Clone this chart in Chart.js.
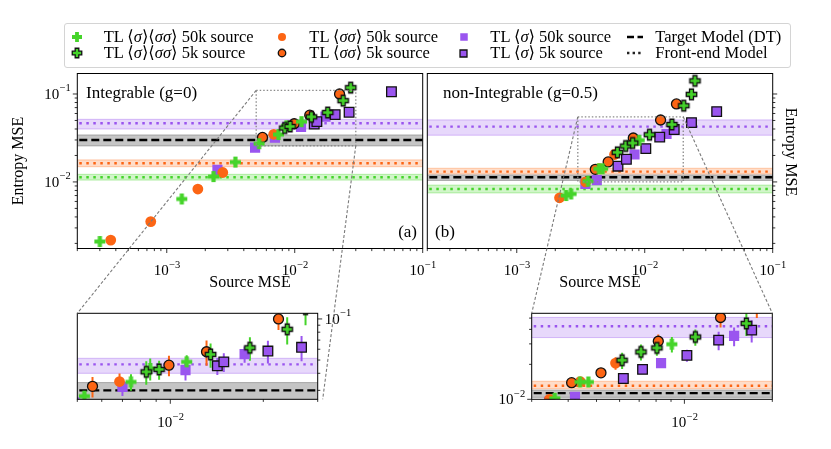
<!DOCTYPE html>
<html>
<head>
<meta charset="utf-8">
<title>Entropy MSE vs Source MSE</title>
<script src="https://cdn.jsdelivr.net/npm/chart.js@4.4.1/dist/chart.umd.min.js"></script>
<style>
  body { margin: 0; background: #fff; }
  #wrap { position: relative; width: 831px; height: 449px; overflow: hidden; font-family: "Liberation Serif", "DejaVu Serif", serif; }
  #wrap canvas.layer { position: absolute; left: 0; top: 0; }
  #legend { position: absolute; left: 64px; top: 23px; width: 727px; height: 45px; border: 1px solid #d4d4d4; border-radius: 3px; box-sizing: border-box; }
  .lg-mark { position: absolute; }
  .lg-text { position: absolute; font-size: 16.5px; line-height: 16px; white-space: nowrap; color: #000; }
</style>
</head>
<body>
<div id="wrap">
  <div id="legend"></div>
  <canvas id="chartA" class="layer" width="831" height="449"></canvas>
  <canvas id="chartB" class="layer" width="831" height="449"></canvas>
  <canvas id="insetA" class="layer" width="831" height="449"></canvas>
  <canvas id="insetB" class="layer" width="831" height="449"></canvas>
</div>
<script>
const GREEN = '#45d42a';
const ORANGE = '#fc6514';
const PURPLE = '#9a55ef';
const FONT = '"Liberation Serif", "DejaVu Serif", serif';

// (a) Integrable (g=0)
const aGreen50kX = [3.0e-4, 1.31e-3, 2.32e-3, 3.44e-3, 5.27e-3, 7.46e-3, 8.61e-3, 1.13e-2];
const aGreen50kY = [2.1e-3, 6.4e-3, 1.15e-2, 1.68e-2, 2.72e-2, 3.46e-2, 4.34e-2, 4.85e-2];
const aGreen50kErr = [0.0002, 0.0006, 0.001, 0.0015, 0.002, 0.0048, 0.008, 0.0058];
const aGreen5kX = [8.36e-3, 9.2e-3, 1.35e-2, 1.81e-2, 2.39e-2, 2.74e-2];
const aGreen5kY = [4.1e-2, 4.27e-2, 5.5e-2, 6.15e-2, 8.4e-2, 0.118];
const aGreen5kErr = [0.008, 0.0068, 0.011, 0.012, 0.019, 0.028];
const aOrange50kX = [3.65e-4, 7.5e-4, 1.75e-3, 2.74e-3, 6.85e-3];
const aOrange50kY = [2.18e-3, 3.54e-3, 8.3e-3, 1.28e-2, 3.48e-2];
const aOrange50kErr = [0.0002, 0.0003, 0.0007, 0.001, 0.005];
const aOrange5kX = [5.6e-3, 9.9e-3, 1.31e-2, 2.24e-2];
const aOrange5kY = [3.21e-2, 4.59e-2, 5.75e-2, 0.1];
const aOrange5kErr = [0.0055, 0.0078, 0.012, 0.017];
const aPurple50kX = [2.49e-3, 4.9e-3, 7.0e-3, 1.12e-2, 1.74e-2];
const aPurple50kY = [1.37e-2, 2.45e-2, 3.18e-2, 4.22e-2, 5.53e-2];
const aPurple50kErr = [0.001, 0.003, 0.0045, 0.0068, 0.0075];
const aPurple5kX = [1.42e-2, 1.49e-2, 2.07e-2, 2.66e-2, 5.7e-2];
const aPurple5kY = [4.54e-2, 4.85e-2, 5.82e-2, 6.2e-2, 0.106];
const aPurple5kErr = [0.0065, 0.0077, 0.011, 0.013, 0.015];

// (b) non-Integrable (g=0.5)
const bGreen50kX = [2.43e-3, 2.66e-3, 3.6e-3, 4.39e-3, 4.69e-3, 9.06e-3];
const bGreen50kY = [7.0e-3, 7.3e-3, 1.02e-2, 1.41e-2, 1.41e-2, 2.98e-2];
const bGreen50kErr = [0.0004, 0.0004, 0.0006, 0.0008, 0.0008, 0.0045];
const bGreen5kX = [6.12e-3, 7.1e-3, 8.05e-3, 1.09e-2, 1.63e-2, 2.02e-2, 2.32e-2, 2.47e-2];
const bGreen5kY = [2.17e-2, 2.56e-2, 2.77e-2, 3.44e-2, 4.5e-2, 7.36e-2, 9.9e-2, 0.141];
const bGreen5kErr = [0.0035, 0.004, 0.004, 0.0055, 0.01, 0.012, 0.015, 0.02];
const bOrange50kX = [2.16e-3, 3.45e-3, 4.4e-3, 5.81e-3];
const bOrange50kY = [6.6e-3, 1.0e-2, 1.42e-2, 2.05e-2];
const bOrange50kErr = [0.0004, 0.0006, 0.0008, 0.0025];
const bOrange5kX = [4.11e-3, 5.18e-3, 8.14e-3, 1.33e-2, 1.77e-2];
const bOrange5kY = [1.39e-2, 1.69e-2, 3.16e-2, 5.06e-2, 7.7e-2];
const bOrange5kErr = [0.001, 0.0013, 0.0045, 0.009, 0.027];
const bPurple50kX = [3.44e-3, 4.22e-3, 8.32e-3, 1.48e-2];
const bPurple50kY = [9.5e-3, 1.05e-2, 2.05e-2, 3.51e-2];
const bPurple50kErr = [0.0005, 0.0008, 0.0017, 0.0065];
const bPurple5kX = [6.18e-3, 7.19e-3, 1.02e-2, 1.31e-2, 1.7e-2, 2.32e-2, 3.65e-2];
const bPurple5kY = [1.51e-2, 1.81e-2, 2.39e-2, 3.23e-2, 3.94e-2, 4.72e-2, 6.3e-2];
const bPurple5kErr = [0.001, 0.0015, 0.0028, 0.0058, 0.0085, 0.006, 0.008];

// reference levels: [low, value, high]
const aTarget = [0.0257, 0.030, 0.0342];
const aFrontPurple = [0.040, 0.0465, 0.0515];
const aFrontOrange = [0.0149, 0.0163, 0.0178];
const aFrontGreen = [0.0105, 0.0113, 0.0122];
const bTarget = [0.0104, 0.0113, 0.0120];
const bFrontPurple = [0.034, 0.0426, 0.0507];
const bFrontOrange = [0.0123, 0.0131, 0.0143];
const bFrontGreen = [0.0075, 0.0083, 0.0092];

// axis ranges and tick labels
const mainX = [2e-4, 0.1];
const mainY = [1.75e-3, 0.171];
const zoomAX = [5e-3, 3e-2];
const zoomAY = [0.0258, 0.11];
const zoomBX = [3e-3, 2e-2];
const zoomBY = [0.01, 0.055];
const mainXLabels = [1e-3, 1e-2, 1e-1];
const mainYLabels = [1e-2, 1e-1];
const minorSteps = [2, 3, 4, 5, 6, 7, 8, 9];

const legendLabels = [
  'TL \u27e8<i>σ</i>\u27e9\u27e8<i>σσ</i>\u27e9 50k source',
  'TL \u27e8<i>σ</i>\u27e9\u27e8<i>σσ</i>\u27e9 5k source',
  'TL \u27e8<i>σσ</i>\u27e9 50k source',
  'TL \u27e8<i>σσ</i>\u27e9 5k source',
  'TL \u27e8<i>σ</i>\u27e9 50k source',
  'TL \u27e8<i>σ</i>\u27e9 5k source',
  'Target Model (DT)',
  'Front-end Model'
];

function makeMarker(kind, color, edged, s) {
  const pad = 2, n = Math.ceil(s + pad * 2);
  const c = document.createElement('canvas');
  c.width = n; c.height = n;
  const g = c.getContext('2d');
  const m = n / 2;
  g.beginPath();
  if (kind === 'plus') {
    const a = s / 2, t = s * 0.19;
    g.moveTo(m - t, m - a); g.lineTo(m + t, m - a); g.lineTo(m + t, m - t); g.lineTo(m + a, m - t);
    g.lineTo(m + a, m + t); g.lineTo(m + t, m + t); g.lineTo(m + t, m + a); g.lineTo(m - t, m + a);
    g.lineTo(m - t, m + t); g.lineTo(m - a, m + t); g.lineTo(m - a, m - t); g.lineTo(m - t, m - t);
    g.closePath();
  } else if (kind === 'circle') {
    g.arc(m, m, s / 2, 0, Math.PI * 2);
  } else {
    g.rect(m - s / 2, m - s / 2, s, s);
  }
  g.fillStyle = color;
  g.fill();
  if (edged) { g.lineWidth = 1.3; g.strokeStyle = '#111'; g.stroke(); }
  return c;
}

const plusFlat = makeMarker('plus', GREEN, false, 11);
const plusEdge = makeMarker('plus', GREEN, true, 10.5);

function pts(xs, ys) { return xs.map((x, i) => ({ x: x, y: ys[i] })); }

function series(xs, ys, errs, kind, color, edged) {
  const d = { data: pts(xs, ys), errs: errs, errColor: color, showLine: false, clip: 0 };
  if (kind === 'plus') {
    d.pointStyle = edged ? plusEdge : plusFlat;
    d.pointRadius = 6;
  } else {
    d.pointStyle = kind;
    d.pointRadius = kind === 'rect' ? (edged ? 6.8 : 7.2) : (edged ? 5 : 5.4);
    d.backgroundColor = color;
    d.borderColor = edged ? '#111' : color;
    d.borderWidth = edged ? 1.3 : 0;
  }
  return d;
}

function setsA() {
  return [
    series(aGreen5kX, aGreen5kY, aGreen5kErr, 'plus', GREEN, true),
    series(aGreen50kX, aGreen50kY, aGreen50kErr, 'plus', GREEN, false),
    series(aOrange5kX, aOrange5kY, aOrange5kErr, 'circle', ORANGE, true),
    series(aOrange50kX, aOrange50kY, aOrange50kErr, 'circle', ORANGE, false),
    series(aPurple5kX, aPurple5kY, aPurple5kErr, 'rect', PURPLE, true),
    series(aPurple50kX, aPurple50kY, aPurple50kErr, 'rect', PURPLE, false)
  ];
}
function setsB() {
  return [
    series(bGreen5kX, bGreen5kY, bGreen5kErr, 'plus', GREEN, true),
    series(bGreen50kX, bGreen50kY, bGreen50kErr, 'plus', GREEN, false),
    series(bOrange5kX, bOrange5kY, bOrange5kErr, 'circle', ORANGE, true),
    series(bOrange50kX, bOrange50kY, bOrange50kErr, 'circle', ORANGE, false),
    series(bPurple5kX, bPurple5kY, bPurple5kErr, 'rect', PURPLE, true),
    series(bPurple50kX, bPurple50kY, bPurple50kErr, 'rect', PURPLE, false)
  ];
}

function bandList(target, fp, fo, fg) {
  return [
    { v: fg, fill: 'rgba(70,215,40,0.25)', edge: 'rgba(70,215,40,0.35)', line: GREEN, dash: [2.5, 4.5] },
    { v: fo, fill: 'rgba(255,120,40,0.25)', edge: 'rgba(255,120,40,0.35)', line: ORANGE, dash: [2.5, 4.5] },
    { v: fp, fill: 'rgba(160,100,240,0.25)', edge: 'rgba(160,100,240,0.4)', line: PURPLE, dash: [2.5, 4.5] },
    { v: target, fill: 'rgba(140,140,140,0.5)', edge: 'rgba(110,110,110,0.5)', line: '#000', dash: [8, 4] }
  ];
}

function bandPlugin(bands) {
  return {
    id: 'bands',
    beforeDatasetsDraw(chart) {
      const ctx = chart.ctx, a = chart.chartArea, ys = chart.scales.y;
      ctx.save();
      ctx.beginPath(); ctx.rect(a.left, a.top, a.right - a.left, a.bottom - a.top); ctx.clip();
      bands.forEach(b => {
        const y1 = ys.getPixelForValue(b.v[2]), y0 = ys.getPixelForValue(b.v[0]);
        ctx.fillStyle = b.fill;
        ctx.fillRect(a.left, y1, a.right - a.left, y0 - y1);
        ctx.strokeStyle = b.edge; ctx.lineWidth = 1;
        ctx.beginPath(); ctx.moveTo(a.left, y1); ctx.lineTo(a.right, y1);
        ctx.moveTo(a.left, y0); ctx.lineTo(a.right, y0); ctx.stroke();
      });
      bands.forEach(b => {
        const y = ys.getPixelForValue(b.v[1]);
        ctx.strokeStyle = b.line; ctx.lineWidth = 2.4; ctx.setLineDash(b.dash);
        ctx.beginPath(); ctx.moveTo(a.left + 2, y); ctx.lineTo(a.right, y); ctx.stroke();
      });
      ctx.restore();
    }
  };
}

const errPlugin = {
  id: 'errbars',
  beforeDatasetsDraw(chart) {
    const ctx = chart.ctx, a = chart.chartArea, xs = chart.scales.x, ys = chart.scales.y;
    ctx.save();
    ctx.beginPath(); ctx.rect(a.left, a.top, a.right - a.left, a.bottom - a.top); ctx.clip();
    ctx.lineWidth = 2;
    chart.data.datasets.slice().reverse().forEach(d => {
      ctx.strokeStyle = d.errColor;
      d.data.forEach((p, i) => {
        const x = xs.getPixelForValue(p.x);
        ctx.beginPath();
        ctx.moveTo(x, ys.getPixelForValue(Math.max(p.y - d.errs[i], 1e-6)));
        ctx.lineTo(x, ys.getPixelForValue(p.y + d.errs[i]));
        ctx.stroke();
      });
    });
    ctx.restore();
  }
};

function logTicks(min, max) {
  const out = [];
  for (let e = Math.floor(Math.log10(min)); e <= Math.ceil(Math.log10(max)); e++) {
    [1].concat(minorSteps).forEach(m => {
      const v = m * Math.pow(10, e);
      if (v >= min * 0.999 && v <= max * 1.001) out.push({ v: v, major: m === 1 });
    });
  }
  return out;
}

function drawPow(ctx, value, x, y, align) {
  const exp = Math.round(Math.log10(value));
  const sup = (exp < 0 ? '\u2212' : '') + Math.abs(exp);
  ctx.font = '15px ' + FONT; const w1 = ctx.measureText('10').width;
  ctx.font = '10.5px ' + FONT; const w2 = ctx.measureText(sup).width;
  const left = align === 'center' ? x - (w1 + w2) / 2 : align === 'right' ? x - w1 - w2 : x;
  ctx.textAlign = 'left'; ctx.textBaseline = 'alphabetic';
  ctx.font = '15px ' + FONT; ctx.fillText('10', left, y);
  ctx.font = '10.5px ' + FONT; ctx.fillText(sup, left + w1 + 0.5, y - 7.5);
}

function axesPlugin(cfg) {
  return {
    id: 'axes',
    afterDraw(chart) {
      const ctx = chart.ctx, a = chart.chartArea, xs = chart.scales.x, ys = chart.scales.y;
      ctx.save();
      ctx.fillStyle = '#000'; ctx.strokeStyle = '#000';
      // zoom rectangle
      if (cfg.rect) {
        const r = cfg.rect;
        const x0 = xs.getPixelForValue(r[0][0]), x1 = xs.getPixelForValue(r[0][1]);
        const y0 = ys.getPixelForValue(r[1][0]), y1 = ys.getPixelForValue(r[1][1]);
        ctx.strokeStyle = '#8a8a8a'; ctx.lineWidth = 1.3; ctx.setLineDash([1.5, 2]);
        ctx.strokeRect(x0, y1, x1 - x0, y0 - y1);
        ctx.setLineDash([]); ctx.strokeStyle = '#000';
      }
      ctx.lineWidth = 1;
      ctx.strokeRect(a.left, a.top, a.right - a.left, a.bottom - a.top);
      ctx.lineWidth = 0.8;
      ctx.beginPath();
      logTicks(xs.min, xs.max).forEach(t => {
        const px = xs.getPixelForValue(t.v), len = t.major ? 4.5 : 2.6;
        ctx.moveTo(px, a.bottom); ctx.lineTo(px, a.bottom + len);
      });
      logTicks(ys.min, ys.max).forEach(t => {
        const py = ys.getPixelForValue(t.v), len = t.major ? 4.5 : 2.6;
        if (cfg.ySide === 'left') { ctx.moveTo(a.left, py); ctx.lineTo(a.left - len, py); }
        else { ctx.moveTo(a.right, py); ctx.lineTo(a.right + len, py); }
      });
      ctx.stroke();
      cfg.xLabels.forEach(v => drawPow(ctx, v, xs.getPixelForValue(v), cfg.xLabelY, 'center'));
      cfg.yLabels.forEach(v => {
        const py = ys.getPixelForValue(v) + 5;
        if (cfg.ySide === 'left') drawPow(ctx, v, a.left - 7, py, 'right');
        else drawPow(ctx, v, a.right + 7, py, 'left');
      });
      (cfg.texts || []).forEach(t => {
        ctx.font = t.size + 'px ' + FONT;
        ctx.save();
        ctx.translate(t.x, t.y);
        if (t.rot) { ctx.rotate(t.rot * Math.PI / 180); ctx.textBaseline = 'middle'; }
        else ctx.textBaseline = 'alphabetic';
        ctx.textAlign = t.align;
        ctx.fillText(t.t, 0, 0);
        ctx.restore();
      });
      if (cfg.links) {
        ctx.strokeStyle = '#7a7a7a'; ctx.lineWidth = 1.1; ctx.setLineDash([3, 2]);
        ctx.beginPath();
        cfg.links(chart).forEach(l => { ctx.moveTo(l[0], l[1]); ctx.lineTo(l[2], l[3]); });
        ctx.stroke();
      }
      ctx.restore();
    }
  };
}

function makeChart(id, pad, xr, yr, datasets, plugins) {
  return new Chart(document.getElementById(id), {
    type: 'scatter',
    data: { datasets: datasets },
    options: {
      responsive: false,
      animation: false,
      events: [],
      layout: { padding: pad },
      plugins: { legend: { display: false }, tooltip: { enabled: false } },
      scales: {
        x: { type: 'logarithmic', min: xr[0], max: xr[1], display: false },
        y: { type: 'logarithmic', min: yr[0], max: yr[1], display: false }
      }
    },
    plugins: plugins
  });
}

const bandsA = bandList(aTarget, aFrontPurple, aFrontOrange, aFrontGreen);
const bandsB = bandList(bTarget, bFrontPurple, bFrontOrange, bFrontGreen);

const chartA = makeChart('chartA', { left: 77.3, top: 73.5, right: 408.3, bottom: 200.5 }, mainX, mainY, setsA(), [
  bandPlugin(bandsA),
  axesPlugin({
    ySide: 'left', xLabels: mainXLabels, yLabels: mainYLabels, xLabelY: 275, rect: [zoomAX, zoomAY],
    texts: [
      { t: 'Integrable (g=0)', x: 86, y: 98, align: 'left', size: 17 },
      { t: '(a)', x: 417, y: 237, align: 'right', size: 17 },
      { t: 'Source MSE', x: 250, y: 287, align: 'center', size: 16 },
      { t: 'Entropy MSE', x: 19, y: 161, align: 'center', size: 16, rot: -90 }
    ]
  })
]);

const chartB = makeChart('chartB', { left: 427.3, top: 73.5, right: 58.3, bottom: 200.5 }, mainX, mainY, setsB(), [
  bandPlugin(bandsB),
  axesPlugin({
    ySide: 'right', xLabels: mainXLabels, yLabels: [], xLabelY: 275, rect: [zoomBX, zoomBY],
    texts: [
      { t: 'non-Integrable (g=0.5)', x: 443, y: 98, align: 'left', size: 17 },
      { t: '(b)', x: 435, y: 237, align: 'left', size: 17 },
      { t: 'Source MSE', x: 600, y: 287, align: 'center', size: 16 },
      { t: 'Entropy MSE', x: 790, y: 152, align: 'center', size: 16, rot: 90 }
    ]
  })
]);

const insetA = makeChart('insetA', { left: 77.3, top: 313.3, right: 513.3, bottom: 49.7 }, zoomAX, zoomAY, setsA(), [
  bandPlugin(bandsA),
  errPlugin,
  axesPlugin({
    ySide: 'right', xLabels: [1e-2], yLabels: [1e-1], xLabelY: 427,
    links: ch => {
      const a = ch.chartArea, sx = chartA.scales.x, sy = chartA.scales.y;
      return [
        [sx.getPixelForValue(zoomAX[0]), sy.getPixelForValue(zoomAY[1]), a.left, a.top],
        [sx.getPixelForValue(zoomAX[1]), sy.getPixelForValue(zoomAY[0]), a.right + 5, a.bottom]
      ];
    }
  })
]);

const insetB = makeChart('insetB', { left: 531.7, top: 313.3, right: 58.7, bottom: 49.7 }, zoomBX, zoomBY, setsB(), [
  bandPlugin(bandsB),
  errPlugin,
  axesPlugin({
    ySide: 'left', xLabels: [1e-2], yLabels: [1e-2], xLabelY: 427,
    links: ch => {
      const a = ch.chartArea, sx = chartB.scales.x, sy = chartB.scales.y;
      return [
        [sx.getPixelForValue(zoomBX[0]), sy.getPixelForValue(zoomBY[1]), a.left, a.top],
        [sx.getPixelForValue(zoomBX[1]), sy.getPixelForValue(zoomBY[1]), a.right, a.top]
      ];
    }
  })
]);

// legend
const wrap = document.getElementById('wrap');
const legendMarkX = [76.7, 282, 463.7, 635];
const legendTextX = [103.7, 309.3, 490.3, 655.3];
const legendRowY = [37.3, 53];
const legendMarks = [
  makeMarker('plus', GREEN, false, 10), makeMarker('plus', GREEN, true, 9.5),
  makeMarker('circle', ORANGE, false, 8), makeMarker('circle', ORANGE, true, 7.5),
  makeMarker('rect', PURPLE, false, 7.5), makeMarker('rect', PURPLE, true, 7)
];
function lineHandle(dash, color) {
  const c = document.createElement('canvas');
  c.width = 16; c.height = 6;
  const g = c.getContext('2d');
  g.strokeStyle = color; g.lineWidth = 2.4; g.setLineDash(dash);
  g.beginPath(); g.moveTo(0, 3); g.lineTo(16, 3); g.stroke();
  return c;
}
legendMarks.push(lineHandle([7, 3.5], '#000'), lineHandle([2.4, 3.2], '#222'));
legendLabels.forEach((lab, i) => {
  const col = Math.floor(i / 2), row = i % 2;
  const mk = legendMarks[i];
  mk.className = 'lg-mark';
  mk.style.left = (legendMarkX[col] - mk.width / 2) + 'px';
  mk.style.top = (legendRowY[row] - mk.height / 2) + 'px';
  wrap.appendChild(mk);
  const tx = document.createElement('div');
  tx.className = 'lg-text';
  tx.innerHTML = lab;
  tx.style.left = legendTextX[col] + 'px';
  tx.style.top = (legendRowY[row] - 8.5) + 'px';
  wrap.appendChild(tx);
});
</script>
</body>
</html>
